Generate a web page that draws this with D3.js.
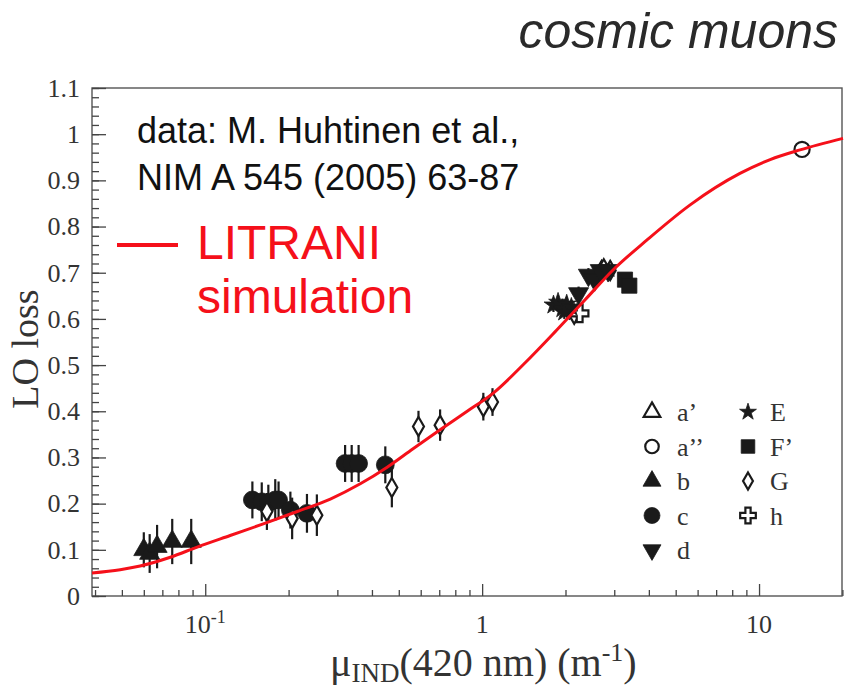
<!DOCTYPE html>
<html>
<head>
<meta charset="utf-8">
<script src="https://cdn.jsdelivr.net/npm/d3@7"></script>
<style>
  body { margin: 0; background: #fff; }
</style>
</head>
<body>
<svg id="chart" width="844" height="688"></svg>
<script>
// LITRANI simulation curve
const simMu   = [0.039, 0.0493, 0.0582, 0.0748, 0.0936, 0.123, 0.162, 0.215, 0.283, 0.363, 0.454, 0.563, 0.705, 0.883, 1.10, 1.43, 1.86, 2.35, 2.97, 3.94, 5.64, 8.53, 10.97, 14.06, 20.1];
const simLoss = [0.050, 0.057, 0.065, 0.084, 0.106, 0.131, 0.156, 0.183, 0.210, 0.243, 0.279, 0.319, 0.360, 0.400, 0.440, 0.505, 0.576, 0.641, 0.706, 0.771, 0.847, 0.915, 0.945, 0.966, 0.991];

// measured points (Huhtinen et al.), one set of arrays per sample
const aPrimeMu = [2.75],  aPrimeLoss = [0.706], aPrimeErr = [0.02];
const aDblMu   = [14.3],  aDblLoss   = [0.967], aDblErr   = [0.012];
const bMu   = [0.060, 0.063, 0.067, 0.076, 0.089];
const bLoss = [0.100, 0.092, 0.107, 0.118, 0.118];
const bErr  = [0.038, 0.042, 0.047, 0.049, 0.049];
const cMu   = [0.148, 0.160, 0.169, 0.179, 0.184, 0.203, 0.233, 0.320, 0.338, 0.358, 0.447];
const cLoss = [0.208, 0.204, 0.201, 0.208, 0.208, 0.186, 0.179, 0.287, 0.287, 0.287, 0.284];
const cErr  = [0.040, 0.042, 0.040, 0.045, 0.040, 0.040, 0.042, 0.040, 0.040, 0.040, 0.040];
const dMu   = [2.23, 2.42, 2.55, 2.67, 2.85];
const dLoss = [0.655, 0.695, 0.685, 0.705, 0.705];
const dErr  = [0.015, 0.015, 0.015, 0.015, 0.015];
const eMu   = [1.81, 1.88, 1.95, 2.02, 2.10, 1.98];
const eLoss = [0.630, 0.636, 0.622, 0.632, 0.625, 0.615];
const eErr  = [0.015, 0.015, 0.015, 0.015, 0.015, 0.015];
const fMu   = [3.28, 3.40];
const fLoss = [0.685, 0.672];
const fErr  = [0.010, 0.010];
const gMu   = [0.167, 0.206, 0.253, 0.472, 0.589, 0.705, 1.01, 1.09, 2.15, 2.70, 2.90];
const gLoss = [0.183, 0.168, 0.175, 0.235, 0.367, 0.370, 0.410, 0.420, 0.610, 0.705, 0.705];
const gErr  = [0.040, 0.045, 0.045, 0.043, 0.034, 0.034, 0.030, 0.030, 0.020, 0.020, 0.020];
const hMu   = [2.25], hLoss = [0.612], hErr = [0.015];

// axis ticks
const yMajor = d3.range(0, 1.1001, 0.1);
const yMinor = d3.range(0, 1.1001, 0.02);
const xMajor = [0.1, 1, 10];
const xMinor = [0.04, 0.05, 0.06, 0.07, 0.08, 0.09, 0.2, 0.3, 0.4, 0.5, 0.6, 0.7, 0.8, 0.9, 2, 3, 4, 5, 6, 7, 8, 9, 20];

const legendLabels = ["a’", "a’’", "b", "c", "d", "E", "F’", "G", "h"];

const ink = "#1a1a1a";
const red = "#f5101a";
const serif = "'Liberation Serif', 'Times New Roman', serif";
const sans = "'Liberation Sans', Arial, sans-serif";

const svg = d3.select("#chart");
const plotL = 92, plotR = 842, plotT = 88, plotB = 596;

const x = d3.scaleLog().domain([0.039, 20.1]).range([plotL, plotR + 1]);
const y = d3.scaleLinear().domain([0, 1.1]).range([plotB, plotT]);

// marker styles for each sample
const styles = {
  aPrime: { type: d3.symbolTriangle, size: 150, open: true, rot: 0 },
  aDbl:   { type: d3.symbolCircle,   size: 180, open: true, rot: 0 },
  b:      { type: d3.symbolTriangle, size: 175, open: false, rot: 0 },
  c:      { type: d3.symbolCircle,   size: 250, open: false, rot: 0 },
  d:      { type: d3.symbolTriangle, size: 175, open: false, rot: 180 },
  E:      { type: d3.symbolStar,     size: 110, open: false, rot: 0 },
  F:      { type: d3.symbolSquare,   size: 230, open: false, rot: 0 },
  G:      { type: d3.symbolDiamond,  size: 105, open: true, rot: 0 },
  h:      { type: d3.symbolCross,    size: 170, open: true, rot: 0 }
};

const series = [
  { key: "c", mu: cMu, loss: cLoss, err: cErr },
  { key: "G", mu: gMu, loss: gLoss, err: gErr },
  { key: "b", mu: bMu, loss: bLoss, err: bErr },
  { key: "aPrime", mu: aPrimeMu, loss: aPrimeLoss, err: aPrimeErr },
  { key: "h", mu: hMu, loss: hLoss, err: hErr },
  { key: "E", mu: eMu, loss: eLoss, err: eErr },
  { key: "d", mu: dMu, loss: dLoss, err: dErr },
  { key: "F", mu: fMu, loss: fLoss, err: fErr },
  { key: "aDbl", mu: aDblMu, loss: aDblLoss, err: aDblErr }
];

function marker(sel, st, scale) {
  sel.attr("d", d3.symbol().type(st.type).size(st.size * (scale || 1))())
    .attr("fill", st.open ? "#fff" : ink)
    .attr("stroke", ink)
    .attr("stroke-width", st.open ? 2.2 : 0.8);
}

// frame
svg.append("rect")
  .attr("x", plotL).attr("y", plotT)
  .attr("width", plotR - plotL).attr("height", plotB - plotT)
  .attr("fill", "none").attr("stroke", "#555").attr("stroke-width", 1.4);

// y axis (ticks pointing inside)
const yAxis = svg.append("g").attr("transform", `translate(${plotL},0)`)
  .call(d3.axisLeft(y).tickValues(yMajor).tickSize(-14).tickPadding(12)
    .tickFormat(d => d3.format("~g")(+d.toFixed(1))));
svg.append("g").attr("transform", `translate(${plotL},0)`)
  .call(d3.axisLeft(y).tickValues(yMinor).tickSize(-7).tickFormat(""));

// x axis
svg.append("g").attr("transform", `translate(0,${plotB})`)
  .call(d3.axisBottom(x).tickValues(xMajor).tickSize(-12).tickFormat(""));
svg.append("g").attr("transform", `translate(0,${plotB})`)
  .call(d3.axisBottom(x).tickValues(xMinor).tickSize(-6).tickFormat(""));

svg.selectAll(".domain").remove();
svg.selectAll(".tick line").attr("stroke", "#444").attr("stroke-width", 1.3);
yAxis.selectAll(".tick text")
  .attr("font-family", serif).attr("font-size", 26).attr("fill", "#333");

// x tick labels
const xl = svg.append("g").attr("font-family", serif).attr("font-size", 26)
  .attr("fill", "#333").attr("text-anchor", "middle");
xMajor.forEach(v => {
  const t = xl.append("text").attr("x", x(v)).attr("y", 633);
  if (v < 1) {
    t.text("10");
    t.append("tspan").attr("dy", -10).attr("font-size", 18).text("-1");
  } else {
    t.text(d3.format("d")(v));
  }
});

// axis titles
svg.append("text")
  .attr("transform", `translate(38,349) rotate(-90)`)
  .attr("text-anchor", "middle")
  .attr("font-family", serif).attr("font-size", 38).attr("fill", "#333")
  .text("LO loss");

const xt = svg.append("text")
  .attr("x", 330).attr("y", 676)
  .attr("font-family", serif).attr("font-size", 40).attr("fill", "#333");
xt.append("tspan").text("μ");
xt.append("tspan").attr("font-size", 27).attr("dy", 6).text("IND");
xt.append("tspan").attr("dy", -6).text("(420 nm) (m");
xt.append("tspan").attr("font-size", 26).attr("dy", -15).text("-1");
xt.append("tspan").attr("dy", 15).text(")");

// data points with vertical error bars
const pts = svg.append("g");
series.forEach(s => {
  const st = styles[s.key];
  const rows = s.mu.map((m, i) => ({ mu: m, loss: s.loss[i], err: s.err[i] }));
  const g = pts.append("g");
  g.selectAll("line").data(rows).join("line")
    .attr("x1", d => x(d.mu)).attr("x2", d => x(d.mu))
    .attr("y1", d => y(d.loss - d.err)).attr("y2", d => y(d.loss + d.err))
    .attr("stroke", ink).attr("stroke-width", 2.2);
  g.selectAll("path").data(rows).join("path")
    .call(marker, st)
    .attr("transform", d => `translate(${x(d.mu)},${y(d.loss)}) rotate(${st.rot})`);
});

// simulation curve
const simRows = simMu.map((m, i) => ({ mu: m, loss: simLoss[i] }));
svg.append("path")
  .datum(simRows)
  .attr("fill", "none")
  .attr("stroke", red)
  .attr("stroke-width", 3)
  .attr("d", d3.line().x(d => x(d.mu)).y(d => y(d.loss)).curve(d3.curveMonotoneX));

// legend of samples
const legendKeys = ["aPrime", "aDbl", "b", "c", "d", "E", "F", "G", "h"];
const lg = svg.append("g");
legendKeys.forEach((k, i) => {
  const col = i < 5 ? 0 : 1;
  const row = i < 5 ? i : i - 5;
  const sx = col === 0 ? 652 : 748;
  const tx = col === 0 ? 677 : 770;
  const cy = 412 + row * 34.5;
  lg.append("path").call(marker, styles[k], 0.8)
    .attr("transform", `translate(${sx},${cy}) rotate(${styles[k].rot})`);
  lg.append("text").attr("x", tx).attr("y", cy + 9)
    .attr("font-family", serif).attr("font-size", 26).attr("fill", "#333")
    .text(legendLabels[i]);
});

// annotations
svg.append("text")
  .attr("x", 838).attr("y", 48).attr("text-anchor", "end")
  .attr("font-family", sans).attr("font-style", "italic").attr("font-size", 50)
  .attr("fill", "#2a2a2a").text("cosmic muons");

svg.append("text").attr("x", 137).attr("y", 143)
  .attr("font-family", sans).attr("font-size", 36).attr("fill", "#111")
  .text("data: M. Huhtinen et al.,");
svg.append("text").attr("x", 137).attr("y", 190)
  .attr("font-family", sans).attr("font-size", 36).attr("fill", "#111")
  .text("NIM A 545 (2005) 63-87");

svg.append("line")
  .attr("x1", 117).attr("x2", 178).attr("y1", 245).attr("y2", 245)
  .attr("stroke", red).attr("stroke-width", 4);
svg.append("text").attr("x", 197).attr("y", 259)
  .attr("font-family", sans).attr("font-size", 48).attr("fill", red)
  .text("LITRANI");
svg.append("text").attr("x", 197).attr("y", 313)
  .attr("font-family", sans).attr("font-size", 48).attr("fill", red)
  .text("simulation");
</script>
</body>
</html>
